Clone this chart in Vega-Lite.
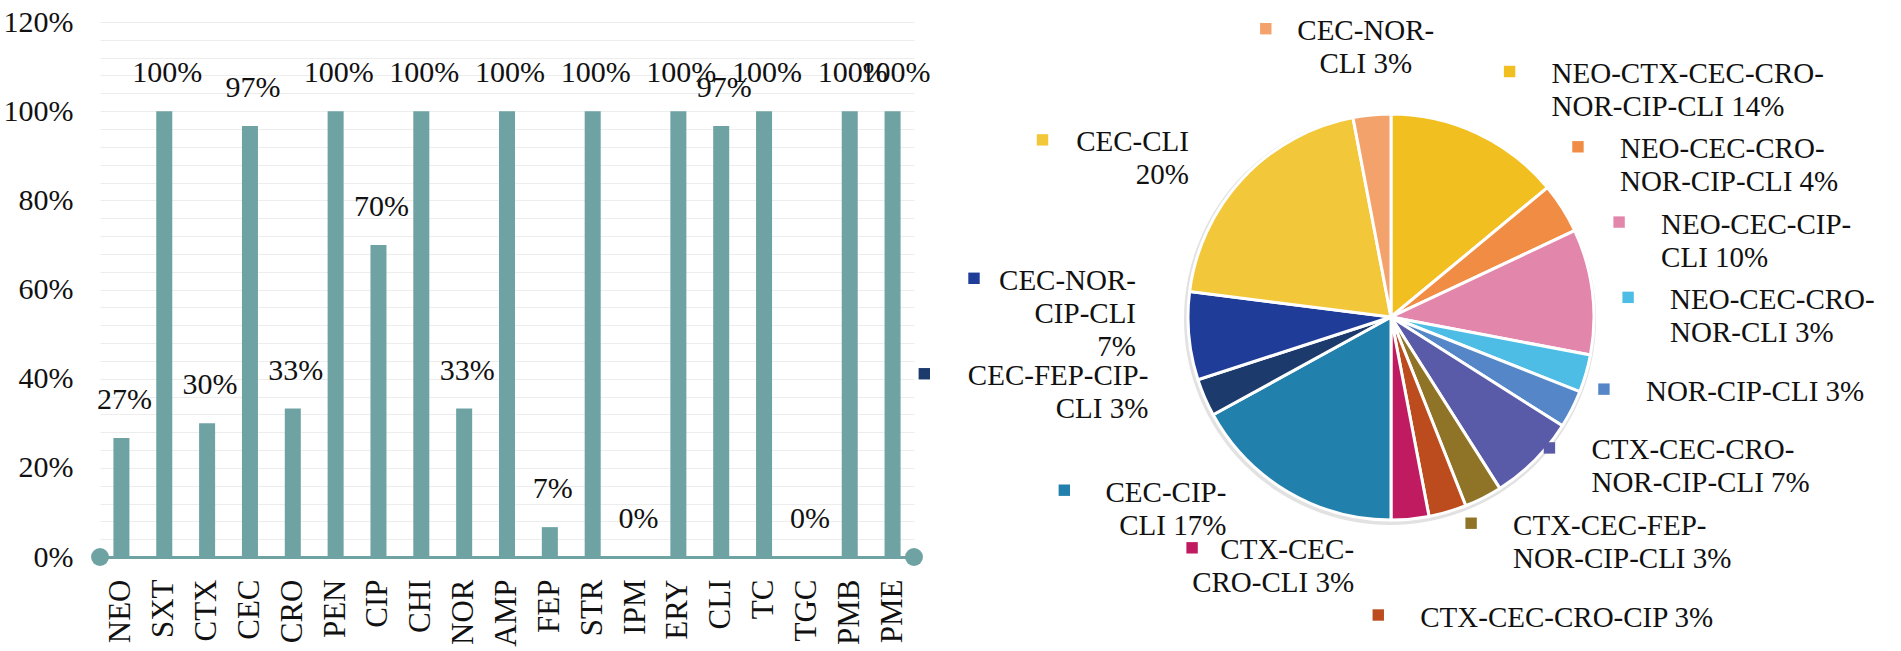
{
  "$schema": "https://vega.github.io/schema/vega-lite/v6.json",
  "background": "white",
  "padding": {"left": 3, "top": 7, "right": 0, "bottom": 0},
  "bounds": "flush",
  "spacing": 27,
  "config": {
    "view": {"stroke": null},
    "font": "Liberation Serif"
  },
  "hconcat": [
    {
      "width": 814,
      "height": 535,
      "data": {
        "values": [
          {"drug": "NEO", "share": 0.267},
          {"drug": "SXT", "share": 1},
          {"drug": "CTX", "share": 0.3},
          {"drug": "CEC", "share": 0.967},
          {"drug": "CRO", "share": 0.333},
          {"drug": "PEN", "share": 1},
          {"drug": "CIP", "share": 0.7},
          {"drug": "CHI", "share": 1},
          {"drug": "NOR", "share": 0.333},
          {"drug": "AMP", "share": 1},
          {"drug": "FEP", "share": 0.067},
          {"drug": "STR", "share": 1},
          {"drug": "IPM", "share": 0},
          {"drug": "ERY", "share": 1},
          {"drug": "CLI", "share": 0.967},
          {"drug": "TC", "share": 1},
          {"drug": "TGC", "share": 0},
          {"drug": "PMB", "share": 1},
          {"drug": "PME", "share": 1}
        ]
      },
      "encoding": {
        "x": {
          "field": "drug",
          "type": "nominal",
          "sort": null,
          "scale": {"paddingInner": 0.626, "paddingOuter": 0.313},
          "axis": {
            "title": null,
            "labelAngle": -90,
            "labelFont": "Liberation Serif",
            "labelFontSize": 31,
            "labelColor": "#111111",
            "labelPadding": 22,
            "ticks": false,
            "grid": false,
            "domainColor": "#6fa3a3",
            "domainWidth": 3
          }
        },
        "y": {
          "field": "share",
          "type": "quantitative",
          "scale": {"domain": [0, 1.2], "nice": false},
          "axis": {
            "title": null,
            "values": [0, 0.04, 0.08, 0.12, 0.16, 0.2, 0.24, 0.28, 0.32, 0.36, 0.4, 0.44, 0.48, 0.52, 0.56, 0.6, 0.64, 0.68, 0.72, 0.76, 0.8, 0.84, 0.88, 0.92, 0.96, 1, 1.04, 1.08, 1.12, 1.16, 1.2],
            "labelExpr": "abs(datum.value * 5 - round(datum.value * 5)) < 0.001 ? format(datum.value, '.0%') : ''",
            "labelOverlap": false,
            "labelFont": "Liberation Serif",
            "labelFontSize": 30,
            "labelColor": "#111111",
            "labelPadding": 27,
            "ticks": false,
            "domain": false,
            "gridColor": "#ededed",
            "gridWidth": 1
          }
        }
      },
      "layer": [
        {"mark": {"type": "bar", "color": "#6fa3a3"}},
        {
          "mark": {"type": "text", "font": "Liberation Serif", "fontSize": 30, "color": "#111111", "baseline": "alphabetic", "dy": -29, "dx": 3},
          "encoding": {"text": {"field": "share", "type": "quantitative", "format": ".0%"}}
        },
        {
          "data": {"values": [{"end": "left"}]},
          "mark": {"type": "point", "filled": true, "size": 320, "color": "#6fa3a3", "opacity": 1},
          "encoding": {"x": {"value": 0}, "y": {"value": "height"}}
        },
        {
          "data": {"values": [{"end": "right"}]},
          "mark": {"type": "point", "filled": true, "size": 320, "color": "#6fa3a3", "opacity": 1},
          "encoding": {"x": {"value": "width"}, "y": {"value": "height"}}
        }
      ]
    },
    {
      "width": 900,
      "height": 590,
      "data": {
        "values": [
          {"order": 1, "combo": "NEO-CTX-CEC-CRO-NOR-CIP-CLI", "pct": 14, "label": "NEO-CTX-CEC-CRO-\nNOR-CIP-CLI 14%"},
          {"order": 2, "combo": "NEO-CEC-CRO-NOR-CIP-CLI", "pct": 4, "label": "NEO-CEC-CRO-\nNOR-CIP-CLI 4%"},
          {"order": 3, "combo": "NEO-CEC-CIP-CLI", "pct": 10, "label": "NEO-CEC-CIP-\nCLI 10%"},
          {"order": 4, "combo": "NEO-CEC-CRO-NOR-CLI", "pct": 3, "label": "NEO-CEC-CRO-\nNOR-CLI 3%"},
          {"order": 5, "combo": "NOR-CIP-CLI", "pct": 3, "label": "NOR-CIP-CLI 3%"},
          {"order": 6, "combo": "CTX-CEC-CRO-NOR-CIP-CLI", "pct": 7, "label": "CTX-CEC-CRO-\nNOR-CIP-CLI 7%"},
          {"order": 7, "combo": "CTX-CEC-FEP-NOR-CIP-CLI", "pct": 3, "label": "CTX-CEC-FEP-\nNOR-CIP-CLI 3%"},
          {"order": 8, "combo": "CTX-CEC-CRO-CIP", "pct": 3, "label": "CTX-CEC-CRO-CIP 3%"},
          {"order": 9, "combo": "CTX-CEC-CRO-CLI", "pct": 3, "label": "CTX-CEC-\nCRO-CLI 3%"},
          {"order": 10, "combo": "CEC-CIP-CLI", "pct": 17, "label": "CEC-CIP-\nCLI  17%"},
          {"order": 11, "combo": "CEC-FEP-CIP-CLI", "pct": 3, "label": "CEC-FEP-CIP-\nCLI 3%"},
          {"order": 12, "combo": "CEC-NOR-CIP-CLI", "pct": 7, "label": "CEC-NOR-\nCIP-CLI\n7%"},
          {"order": 13, "combo": "CEC-CLI", "pct": 20, "label": "CEC-CLI\n20%"},
          {"order": 14, "combo": "CEC-NOR-CLI", "pct": 3, "label": "CEC-NOR-\nCLI 3%"}
        ]
      },
      "transform": [
        {"stack": "pct", "groupby": [], "sort": [{"field": "order"}], "as": ["p0", "p1"]},
        {"calculate": "(datum.p0 + datum.p1) / 2", "as": "mid"},
        {"calculate": "datum.mid < 48 ? 'R' : 'L'", "as": "side"},
        {"calculate": "max(datum.pct, 6)", "as": "w"},
        {"window": [{"op": "row_number", "as": "rk"}, {"op": "sum", "field": "w", "as": "cw"}], "groupby": ["side"], "sort": [{"field": "order"}], "frame": [null, 0]},
        {"joinaggregate": [{"op": "count", "as": "n"}, {"op": "sum", "field": "w", "as": "tw"}], "groupby": ["side"]},
        {"calculate": "length(split(datum.label, '\\n'))", "as": "nl"},
        {"calculate": "length(split(datum.label, '\\n')[0])", "as": "n1"},
        {"calculate": "datum.side == 'R' ? 35 + (datum.rk - 1) * 139 / (datum.n - 1) : 180 + 172 * (datum.cw - datum.w / 2) / datum.tw", "as": "spread"},
        {"calculate": "datum.side == 'L' && datum.spread > 335 ? 'C' : datum.side", "as": "al"},
        {"calculate": "datum.al == 'C' ? datum.mid * 3.6 : datum.spread", "as": "deg"},
        {"calculate": "(datum.side == 'R' ? 280 : datum.al == 'C' ? 268 : 255) * sin(datum.deg * PI / 180)", "as": "tx"},
        {"calculate": "datum.side == 'R' ? 224 - (datum.rk - 1) * 527 / (datum.n - 1) : (datum.al == 'C' ? 268 : 255) * cos(datum.deg * PI / 180)", "as": "cy"},
        {"calculate": "datum.cy + datum.nl * 16.5", "as": "ty"},
        {"calculate": "datum.al == 'R' ? datum.tx - 42 : datum.al == 'C' ? datum.tx - 7.75 * datum.n1 - 38 : datum.tx - 15.5 * datum.n1 - 38", "as": "mx"},
        {"calculate": "datum.ty - 11.5", "as": "my"}
      ],
      "layer": [
        {
          "data": {"values": [{"part": "shadow"}]},
          "mark": {"type": "arc", "outerRadius": 206, "color": "#e2e2e2", "xOffset": -1, "yOffset": 2},
          "encoding": {}
        },
        {
          "mark": {"type": "arc", "outerRadius": 203, "stroke": "white", "strokeWidth": 3},
          "encoding": {
            "theta": {"field": "pct", "type": "quantitative", "stack": true},
            "order": {"field": "order", "type": "quantitative"},
            "color": {
              "field": "combo",
              "type": "nominal",
              "sort": null,
              "legend": null,
              "scale": {
                "domain": ["NEO-CTX-CEC-CRO-NOR-CIP-CLI", "NEO-CEC-CRO-NOR-CIP-CLI", "NEO-CEC-CIP-CLI", "NEO-CEC-CRO-NOR-CLI", "NOR-CIP-CLI", "CTX-CEC-CRO-NOR-CIP-CLI", "CTX-CEC-FEP-NOR-CIP-CLI", "CTX-CEC-CRO-CIP", "CTX-CEC-CRO-CLI", "CEC-CIP-CLI", "CEC-FEP-CIP-CLI", "CEC-NOR-CIP-CLI", "CEC-CLI", "CEC-NOR-CLI"],
                "range": ["#f1bf1f", "#f08c43", "#e286ab", "#4dbde6", "#5486c8", "#5a5ba8", "#8f7427", "#bc4c1d", "#c01b60", "#2280ad", "#1c3a6b", "#1f3c98", "#f3c73a", "#f3a26b"]
              }
            }
          }
        },
        {
          "transform": [{"filter": "datum.al == 'R'"}],
          "mark": {"type": "text", "align": "left", "baseline": "top", "font": "Liberation Serif", "fontSize": 29, "lineHeight": 33, "lineBreak": "\n", "color": "#111111"},
          "encoding": {
            "x": {"field": "tx", "type": "quantitative", "scale": {"domain": [-450, 450], "nice": false, "zero": false}, "axis": null},
            "y": {"field": "ty", "type": "quantitative", "scale": {"domain": [-295, 295], "nice": false, "zero": false}, "axis": null},
            "text": {"field": "label", "type": "nominal"}
          }
        },
        {
          "transform": [{"filter": "datum.al == 'L'"}],
          "mark": {"type": "text", "align": "right", "baseline": "top", "font": "Liberation Serif", "fontSize": 29, "lineHeight": 33, "lineBreak": "\n", "color": "#111111"},
          "encoding": {
            "x": {"field": "tx", "type": "quantitative", "scale": {"domain": [-450, 450], "nice": false, "zero": false}, "axis": null},
            "y": {"field": "ty", "type": "quantitative", "scale": {"domain": [-295, 295], "nice": false, "zero": false}, "axis": null},
            "text": {"field": "label", "type": "nominal"}
          }
        },
        {
          "transform": [{"filter": "datum.al == 'C'"}],
          "mark": {"type": "text", "align": "center", "baseline": "top", "font": "Liberation Serif", "fontSize": 29, "lineHeight": 33, "lineBreak": "\n", "color": "#111111"},
          "encoding": {
            "x": {"field": "tx", "type": "quantitative", "scale": {"domain": [-450, 450], "nice": false, "zero": false}, "axis": null},
            "y": {"field": "ty", "type": "quantitative", "scale": {"domain": [-295, 295], "nice": false, "zero": false}, "axis": null},
            "text": {"field": "label", "type": "nominal"}
          }
        },
        {
          "mark": {"type": "point", "shape": "square", "filled": true, "size": 130, "opacity": 1},
          "encoding": {
            "x": {"field": "mx", "type": "quantitative", "scale": {"domain": [-450, 450], "nice": false, "zero": false}, "axis": null},
            "y": {"field": "my", "type": "quantitative", "scale": {"domain": [-295, 295], "nice": false, "zero": false}, "axis": null},
            "color": {"field": "combo", "type": "nominal", "sort": null, "legend": null}
          }
        }
      ]
    }
  ]
}
